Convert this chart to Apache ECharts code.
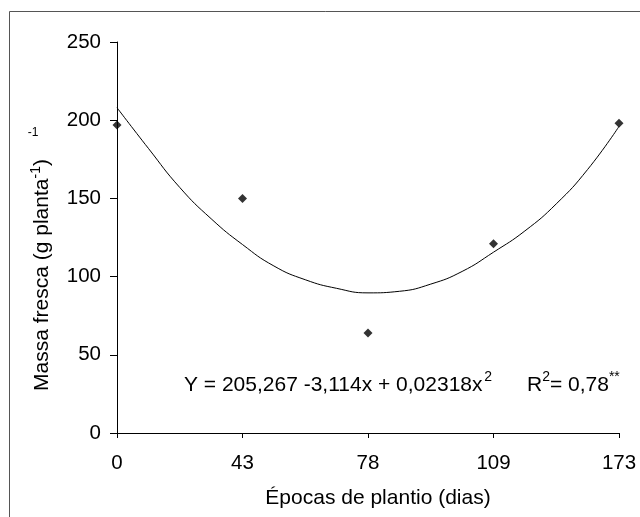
<!DOCTYPE html>
<html>
<head>
<meta charset="utf-8">
<script src="https://cdn.jsdelivr.net/npm/echarts@6/dist/echarts.min.js"></script>
<style>
  html, body { margin: 0; padding: 0; background: #fff; }
  #chart { width: 640px; height: 517px; }
</style>
</head>
<body>
<div id="chart"></div>
<script>
// planting dates (days), shown as evenly spaced positions
const days = ['0', '43', '78', '109', '173'];
// observed fresh mass per planting date
const massaObs = [197, 150, 64, 121, 198];
// fitted curve (x = position of the date, 0..4)
const curvePos = [0, 0.25, 0.5, 0.75, 1, 1.25, 1.5, 1.75, 2, 2.25, 2.5, 2.75, 3, 3.25, 3.5, 3.75, 4];
const curveVal = [208, 182, 157, 137, 120.5, 106.8, 98, 92.5, 89.6, 90.6, 95.2, 103.3, 115.6, 129.2, 146.5, 168.5, 196];

const yTicks = [0, 50, 100, 150, 200, 250];

const font = 'Liberation Sans, Arial, sans-serif';

const chart = echarts.init(document.getElementById('chart'));

// main text + raised superscript styles for rich labels
const richSup = {
  n: { font: '21px ' + font, fill: '#000', lineHeight: 25, verticalAlign: 'bottom' },
  s: { font: '14px ' + font, fill: '#000', lineHeight: 14, verticalAlign: 'top' }
};

const option = {
  animation: false,
  backgroundColor: '#fff',
  grid: { left: 117, right: 21, top: 42, bottom: 84 },
  xAxis: {
    type: 'value',
    min: 0,
    max: days.length - 1,
    interval: 1,
    axisLine: { show: true, onZero: false, lineStyle: { color: '#000', width: 1 } },
    axisTick: { show: true, length: 5, lineStyle: { color: '#000' } },
    axisLabel: {
      color: '#000',
      fontFamily: font,
      fontSize: 20.5,
      margin: 20,
      formatter: v => days[v] !== undefined ? days[v] : ''
    },
    splitLine: { show: false }
  },
  yAxis: {
    type: 'value',
    min: yTicks[0],
    max: yTicks[yTicks.length - 1],
    interval: 50,
    axisLine: { show: true, lineStyle: { color: '#000', width: 1 } },
    axisTick: { show: true, length: 7, lineStyle: { color: '#000' } },
    axisLabel: { color: '#000', fontFamily: font, fontSize: 20.5, margin: 16 },
    splitLine: { show: false }
  },
  series: [
    {
      name: 'ajuste',
      type: 'line',
      smooth: 0.5,
      showSymbol: false,
      lineStyle: { color: '#000', width: 1 },
      data: curvePos.map((x, i) => [x, curveVal[i]]),
      z: 2
    },
    {
      name: 'observado',
      type: 'scatter',
      symbol: 'diamond',
      symbolSize: 9,
      itemStyle: { color: '#000' },
      data: massaObs.map((v, i) => [i, v]),
      z: 3
    }
  ],
  graphic: [
    // outer frame (right and bottom edges fall outside the picture)
    {
      type: 'rect',
      shape: { x: 9.5, y: 11.5, width: 700, height: 600 },
      style: { fill: 'none', stroke: '#555', lineWidth: 1 },
      silent: true
    },
    {
      type: 'text',
      x: 378,
      y: 498,
      style: {
        text: 'Épocas de plantio (dias)',
        font: '21px ' + font,
        fill: '#000',
        textAlign: 'center',
        textVerticalAlign: 'middle'
      }
    },
    {
      type: 'text',
      x: 41,
      y: 275,
      rotation: Math.PI / 2,
      style: {
        text: '{n|Massa fresca (g planta}{s|-1}{n|)}',
        textAlign: 'center',
        textVerticalAlign: 'middle',
        rich: {
          n: { font: '21px ' + font, fill: '#000', lineHeight: 23, verticalAlign: 'bottom' },
          s: { font: '14px ' + font, fill: '#000', lineHeight: 14, verticalAlign: 'top' }
        }
      }
    },
    {
      type: 'text',
      x: 33,
      y: 133,
      style: {
        text: '-1',
        font: '12px ' + font,
        fill: '#000',
        textAlign: 'center',
        textVerticalAlign: 'middle'
      }
    },
    {
      type: 'text',
      x: 184,
      y: 383,
      style: {
        text: '{n|Y = 205,267 -3,114x + 0,02318x}{g| }{s|2}',
        textAlign: 'left',
        textVerticalAlign: 'middle',
        rich: Object.assign({ g: { font: '6px ' + font } }, richSup)
      }
    },
    {
      type: 'text',
      x: 527,
      y: 383,
      style: {
        text: '{n|R}{s|2}{n|= 0,78}{s|**}',
        textAlign: 'left',
        textVerticalAlign: 'middle',
        rich: richSup
      }
    }
  ]
};

chart.setOption(option);
</script>
</body>
</html>
